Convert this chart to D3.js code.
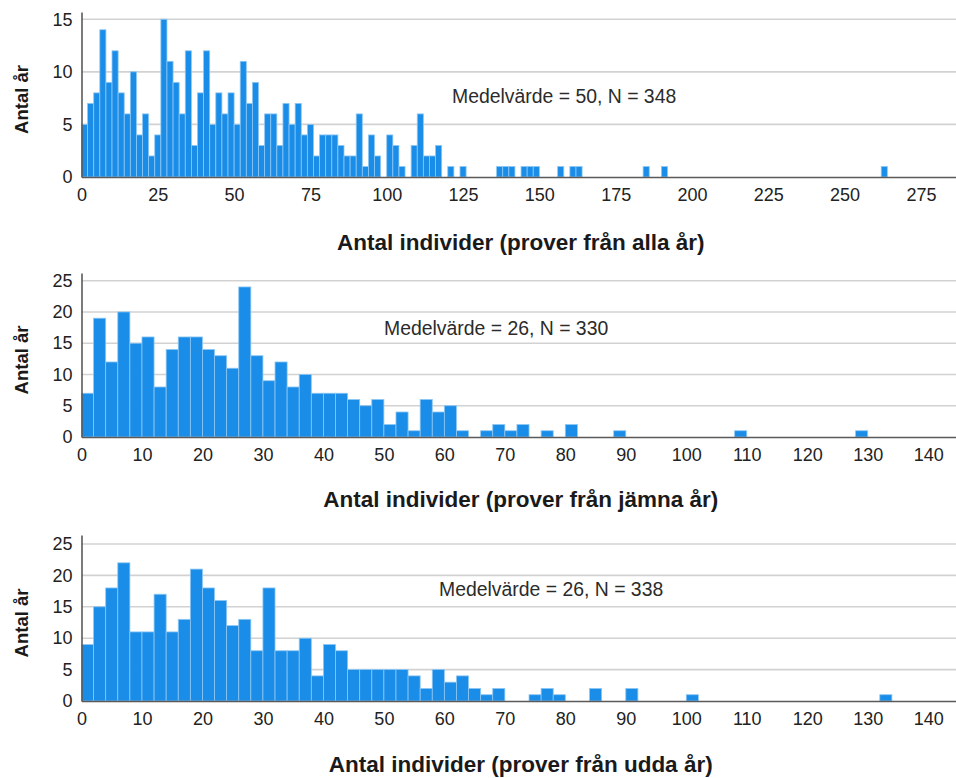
<!DOCTYPE html>
<html>
<head>
<meta charset="utf-8">
<script src="https://cdn.jsdelivr.net/npm/d3@7"></script>
<style>
  html, body { margin: 0; padding: 0; background: #fff; }
  svg { display: block; }
  text { font-family: "Liberation Sans", Arial, sans-serif; }
</style>
</head>
<body>
<svg id="chart" width="956" height="778"></svg>
<script>
// Histogram counts per bin (bin width 2, first bin starts at 0)
const binWidth = 2;

// Samples from all years
const countsAll = [
  5, 7, 8, 14, 9, 12, 8, 6, 10, 4,
  6, 2, 4, 15, 11, 9, 6, 12, 3, 8,
  12, 5, 8, 6, 8, 5, 11, 7, 9, 3,
  6, 6, 3, 7, 5, 7, 4, 5, 2, 4,
  4, 4, 3, 2, 2, 6, 1, 4, 2, 0,
  4, 3, 1, 0, 3, 6, 2, 2, 3, 0,
  1, 0, 1, 0, 0, 0, 0, 0, 1, 1,
  1, 0, 1, 1, 1, 0, 0, 0, 1, 0,
  1, 1, 0, 0, 0, 0, 0, 0, 0, 0,
  0, 0, 1, 0, 0, 1, 0, 0, 0, 0,
  0, 0, 0, 0, 0, 0, 0, 0, 0, 0,
  0, 0, 0, 0, 0, 0, 0, 0, 0, 0,
  0, 0, 0, 0, 0, 0, 0, 0, 0, 0,
  0, 1
];

// Samples from even years
const countsEven = [
  7, 19, 12, 20, 15, 16, 8, 14, 16, 16,
  14, 13, 11, 24, 13, 9, 12, 8, 10, 7,
  7, 7, 6, 5, 6, 2, 4, 1, 6, 4,
  5, 1, 0, 1, 2, 1, 2, 0, 1, 0,
  2, 0, 0, 0, 1, 0, 0, 0, 0, 0,
  0, 0, 0, 0, 1, 0, 0, 0, 0, 0,
  0, 0, 0, 0, 1
];

// Samples from odd years
const countsOdd = [
  9, 15, 18, 22, 11, 11, 17, 11, 13, 21,
  18, 16, 12, 13, 8, 18, 8, 8, 10, 4,
  9, 8, 5, 5, 5, 5, 5, 4, 2, 5,
  3, 4, 2, 1, 2, 0, 0, 1, 2, 1,
  0, 0, 2, 0, 0, 2, 0, 0, 0, 0,
  1, 0, 0, 0, 0, 0, 0, 0, 0, 0,
  0, 0, 0, 0, 0, 0, 1
];

const xTicksAll = [0, 25, 50, 75, 100, 125, 150, 175, 200, 225, 250, 275];
const xTicksHalf = [0, 10, 20, 30, 40, 50, 60, 70, 80, 90, 100, 110, 120, 130, 140];
const yTicksAll = [0, 5, 10, 15];
const yTicksHalf = [0, 5, 10, 15, 20, 25];

const titles = [
  "Antal individer (prover från alla år)",
  "Antal individer (prover från jämna år)",
  "Antal individer (prover från udda år)"
];
const meanLabels = [
  "Medelvärde = 50, N = 348",
  "Medelvärde = 26, N = 330",
  "Medelvärde = 26, N = 338"
];
const yTitle = "Antal år";

// Panel layout (pixels)
const plotLeft = 81.5, plotRight = 956;
const panels = [
  { counts: countsAll,  xMax: 286.5, xTicks: xTicksAll,  yTicks: yTicksAll,  yMax: 15.69,
    top: 12,  zero: 177, titleY: 250, meanX: 452, meanY: 103 },
  { counts: countsEven, xMax: 144.6, xTicks: xTicksHalf, yTicks: yTicksHalf, yMax: 26.23,
    top: 273, zero: 437, titleY: 507, meanX: 384, meanY: 335 },
  { counts: countsOdd,  xMax: 144.6, xTicks: xTicksHalf, yTicks: yTicksHalf, yMax: 26.43,
    top: 535, zero: 701, titleY: 772, meanX: 439, meanY: 596 }
];

const svg = d3.select("#chart");

panels.forEach((p, k) => {
  const x = d3.scaleLinear().domain([0, p.xMax]).range([plotLeft, plotRight]);
  const y = d3.scaleLinear().domain([0, p.yMax]).range([p.zero, p.top]);
  const g = svg.append("g");

  // horizontal gridlines
  g.append("g")
    .selectAll("line")
    .data(p.yTicks.filter(d => d > 0))
    .join("line")
    .attr("x1", plotLeft).attr("x2", plotRight)
    .attr("y1", d => y(d)).attr("y2", d => y(d))
    .attr("stroke", "#d2d2d2")
    .attr("stroke-width", 1.6);

  // bars
  const bins = p.counts.map((c, i) => ({ x0: i * binWidth, x1: (i + 1) * binWidth, n: c }))
    .filter(b => b.n > 0);
  g.append("g")
    .selectAll("rect")
    .data(bins)
    .join("rect")
    .attr("x", d => x(d.x0))
    .attr("width", d => x(d.x1) - x(d.x0))
    .attr("y", d => y(d.n))
    .attr("height", d => y(0) - y(d.n))
    .attr("fill", "#1a8de8")
    .attr("stroke", "#8ec7f3")
    .attr("stroke-width", 0.8);

  // x axis
  const xAxis = g.append("g")
    .attr("transform", `translate(0,${p.zero})`)
    .call(d3.axisBottom(x).tickValues(p.xTicks).tickSize(0).tickPadding(11).tickFormat(d3.format("d")));
  xAxis.select(".domain").attr("stroke", "#5a5a5a").attr("stroke-width", 1.6);
  xAxis.selectAll("text").attr("font-size", 18).attr("fill", "#222")
    .attr("font-family", "'Liberation Sans', Arial, sans-serif");

  // y axis
  const yAxis = g.append("g")
    .attr("transform", `translate(${plotLeft},0)`)
    .call(d3.axisLeft(y).tickValues(p.yTicks).tickSize(0).tickPadding(9).tickFormat(d3.format("d")));
  yAxis.select(".domain").attr("stroke", "#5a5a5a").attr("stroke-width", 1.6);
  yAxis.selectAll("text").attr("font-size", 18).attr("fill", "#222")
    .attr("font-family", "'Liberation Sans', Arial, sans-serif");

  // y axis title
  g.append("text")
    .attr("transform", `translate(28,${(p.top + p.zero) / 2 + 5}) rotate(-90)`)
    .attr("text-anchor", "middle")
    .attr("font-size", 18.5)
    .attr("font-weight", "bold")
    .attr("fill", "#1a1a1a")
    .text(yTitle);

  // x axis title
  g.append("text")
    .attr("x", (plotLeft + plotRight) / 2 + 2)
    .attr("y", p.titleY)
    .attr("text-anchor", "middle")
    .attr("font-size", 22.5)
    .attr("font-weight", "bold")
    .attr("fill", "#1a1a1a")
    .text(titles[k]);

  // mean / N annotation
  g.append("text")
    .attr("x", p.meanX)
    .attr("y", p.meanY)
    .attr("font-size", 19.4)
    .attr("fill", "#2b2b2b")
    .text(meanLabels[k]);
});
</script>
</body>
</html>
